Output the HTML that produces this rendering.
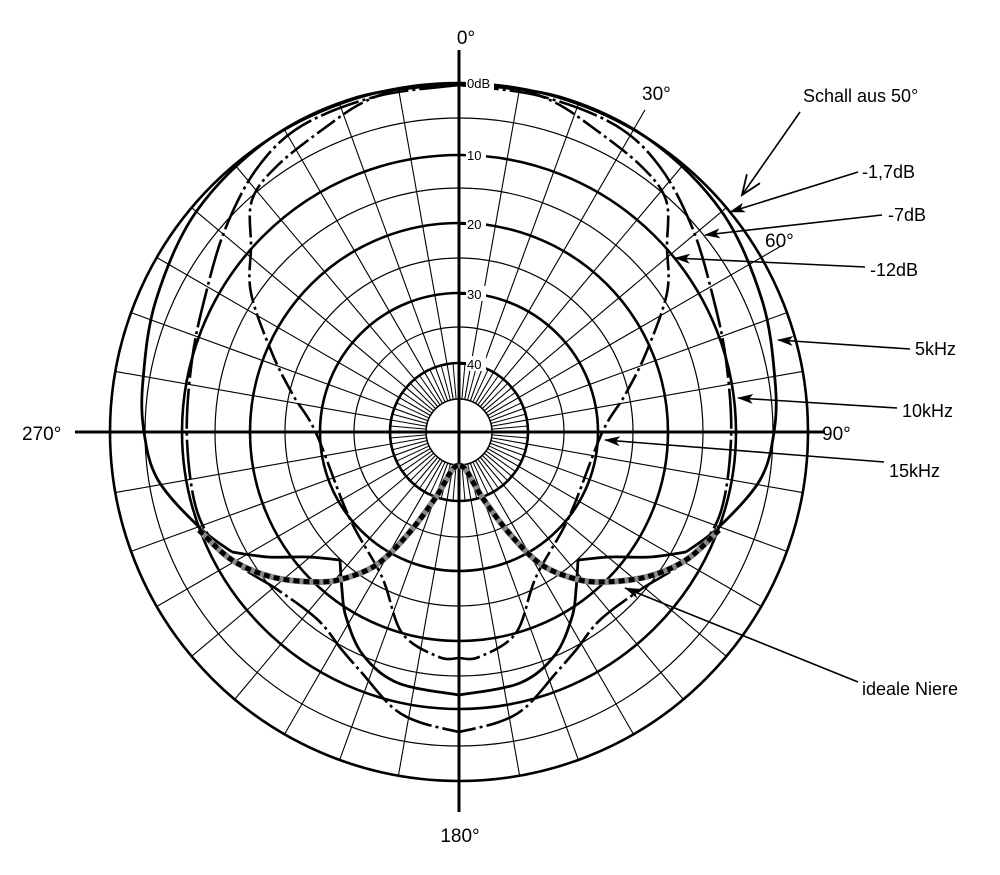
<!DOCTYPE html>
<html><head><meta charset="utf-8"><style>
html,body{margin:0;padding:0;background:#fff;}
svg{display:block}
text{font-family:"Liberation Sans",sans-serif;fill:#000}
</style></head><body>
<svg id="s" width="1000" height="875" viewBox="0 0 1000 875" xmlns="http://www.w3.org/2000/svg">
<defs>
<marker id="fa" markerWidth="16" markerHeight="10" refX="15" refY="5" orient="auto" markerUnits="userSpaceOnUse"><path d="M0,0 L16,5 L0,10 L4,5 Z" fill="#000"/></marker>
<marker id="oa" markerWidth="22" markerHeight="18" refX="20" refY="9" orient="auto" markerUnits="userSpaceOnUse"><path d="M0,1 L20,9 L0,17" fill="none" stroke="#000" stroke-width="1.8"/></marker>
</defs>
<g id="grid"></g>
<g id="curves"></g>
<g id="dbl"></g>
<g id="lbl">
<text x="466" y="44" font-size="19" text-anchor="middle">0°</text>
<text x="460" y="842" font-size="19" text-anchor="middle">180°</text>
<text x="22" y="440" font-size="19">270°</text>
<text x="822" y="440" font-size="19">90°</text>
<text x="642" y="100" font-size="19">30°</text>
<text x="765" y="247" font-size="19">60°</text>
<text x="803" y="102" font-size="18">Schall aus 50°</text>
<text x="862" y="178" font-size="18">-1,7dB</text>
<text x="888" y="221" font-size="18">-7dB</text>
<text x="870" y="276" font-size="18">-12dB</text>
<text x="915" y="355" font-size="18">5kHz</text>
<text x="902" y="417" font-size="18">10kHz</text>
<text x="889" y="477" font-size="18">15kHz</text>
<text x="862" y="695" font-size="18">ideale Niere</text>
</g>
<g stroke="#000" stroke-width="1.6" fill="none">
<line x1="800" y1="112" x2="742" y2="195" marker-end="url(#oa)"/>
<line x1="858" y1="172" x2="730" y2="212" marker-end="url(#fa)"/>
<line x1="882" y1="215" x2="705" y2="235" marker-end="url(#fa)"/>
<line x1="865" y1="267" x2="675" y2="258" marker-end="url(#fa)"/>
<line x1="910" y1="349" x2="778" y2="340" marker-end="url(#fa)"/>
<line x1="897" y1="408" x2="738" y2="398" marker-end="url(#fa)"/>
<line x1="884" y1="462" x2="605" y2="440" marker-end="url(#fa)"/>
<line x1="858" y1="682" x2="625" y2="588" marker-end="url(#fa)"/>
</g>
</svg>
<script>
const NS="http://www.w3.org/2000/svg",cx=459,cy=432;
function el(p,t,a){const e=document.createElementNS(NS,t);for(const k in a)e.setAttribute(k,a[k]);p.appendChild(e);return e;}
const g=document.getElementById('grid'),c=document.getElementById('curves'),L=document.getElementById('dbl');
for(let d=0;d<360;d+=10){const a=d*Math.PI/180,s=Math.sin(a),co=-Math.cos(a);
 let r2=349; if(d==30||d==60) r2=372;
 el(g,'line',{x1:cx+33*s,y1:cy+33*co,x2:cx+r2*s,y2:cy+r2*co,stroke:'#000','stroke-width':1.1});}
for(let d=5;d<360;d+=10){const a=d*Math.PI/180,s=Math.sin(a),co=-Math.cos(a);
 el(g,'line',{x1:cx+33*s,y1:cy+33*co,x2:cx+69*s,y2:cy+69*co,stroke:'#000','stroke-width':1});}
[[314,1.2],[244,1.2],[174,1.2],[105,1.2],[349,2.6],[277,2.6],[209,2.6],[139,2.6],[69,2.6]].forEach(([r,w])=>el(g,'circle',{cx,cy,r,fill:'none',stroke:'#000','stroke-width':w}));
el(g,'circle',{cx,cy,r:33,fill:'#fff',stroke:'#000','stroke-width':1.5});
el(g,'line',{x1:459,y1:50,x2:459,y2:812,stroke:'#000','stroke-width':3});
el(g,'line',{x1:75,y1:432,x2:825,y2:432,stroke:'#000','stroke-width':3});
[['0dB',83],['10',155],['20',224],['30',294],['40',364]].forEach(([t,y])=>{
 const w=t.length*8+4;el(L,'rect',{x:466,y:y-8,width:w,height:15,fill:'#fff'});
 const tx=el(L,'text',{x:467,y:y+5,'font-size':13});tx.textContent=t;
 el(L,'line',{x1:459,y1:y,x2:466,y2:y,stroke:'#000','stroke-width':2});});
function cr(pts){let d='M'+pts[0][0]+','+pts[0][1];
 for(let i=0;i<pts.length-1;i++){const p0=pts[Math.max(i-1,0)],p1=pts[i],p2=pts[i+1],p3=pts[Math.min(i+2,pts.length-1)];
 d+=` C${p1[0]+(p2[0]-p0[0])/6},${p1[1]+(p2[1]-p0[1])/6} ${p2[0]-(p3[0]-p1[0])/6},${p2[1]-(p3[1]-p1[1])/6} ${p2[0]},${p2[1]}`;}return d;}
function both(pts,attr){el(c,'path',Object.assign({d:cr(pts),fill:'none'},attr));
 el(c,'path',Object.assign({d:cr(pts.map(p=>[2*cx-p[0],p[1]])),fill:'none'},attr));}
both([[459,83],[560,97],[650,140],[722,212],[762,300],[775,380],[774,432],[760,480],[719,527],[686,552]],{stroke:'#000','stroke-width':2.8});
both([[686,552],[650,557],[610,557],[578,560]],{stroke:'#000','stroke-width':2.8});
both([[578,560],[576,590],[572,617],[555,655],[520,683],[459,695]],{stroke:'#000','stroke-width':2.8});
both([[459,85],[540,96],[615,125],[660,167],[692,227],[712,293],[726,360],[731,440],[719,517],[686,560],[640,590],[600,620],[576,650],[556,673],[526,707],[499,722],[459,732]],{stroke:'#000','stroke-width':2.6,'stroke-dasharray':'40 4 3 4'});
both([[459,84],[519,90],[556,103],[592,127],[640,165],[666,200],[667,247],[667,293],[646,353],[625,395],[602,433],[569,517],[536,577],[516,633],[479,657],[459,658]],{stroke:'#000','stroke-width':2.6,'stroke-dasharray':'22 4 3 4'});
both([[719,530],[686,560],[646,577],[599,582],[569,577],[539,563],[509,533],[482,497],[466,470],[459,465]],{stroke:'#888','stroke-width':6});
both([[719,530],[686,560],[646,577],[599,582],[569,577],[539,563],[509,533],[482,497],[466,470],[459,465]],{stroke:'#000','stroke-width':5,'stroke-dasharray':'6 4'});
</script>
</body></html>
